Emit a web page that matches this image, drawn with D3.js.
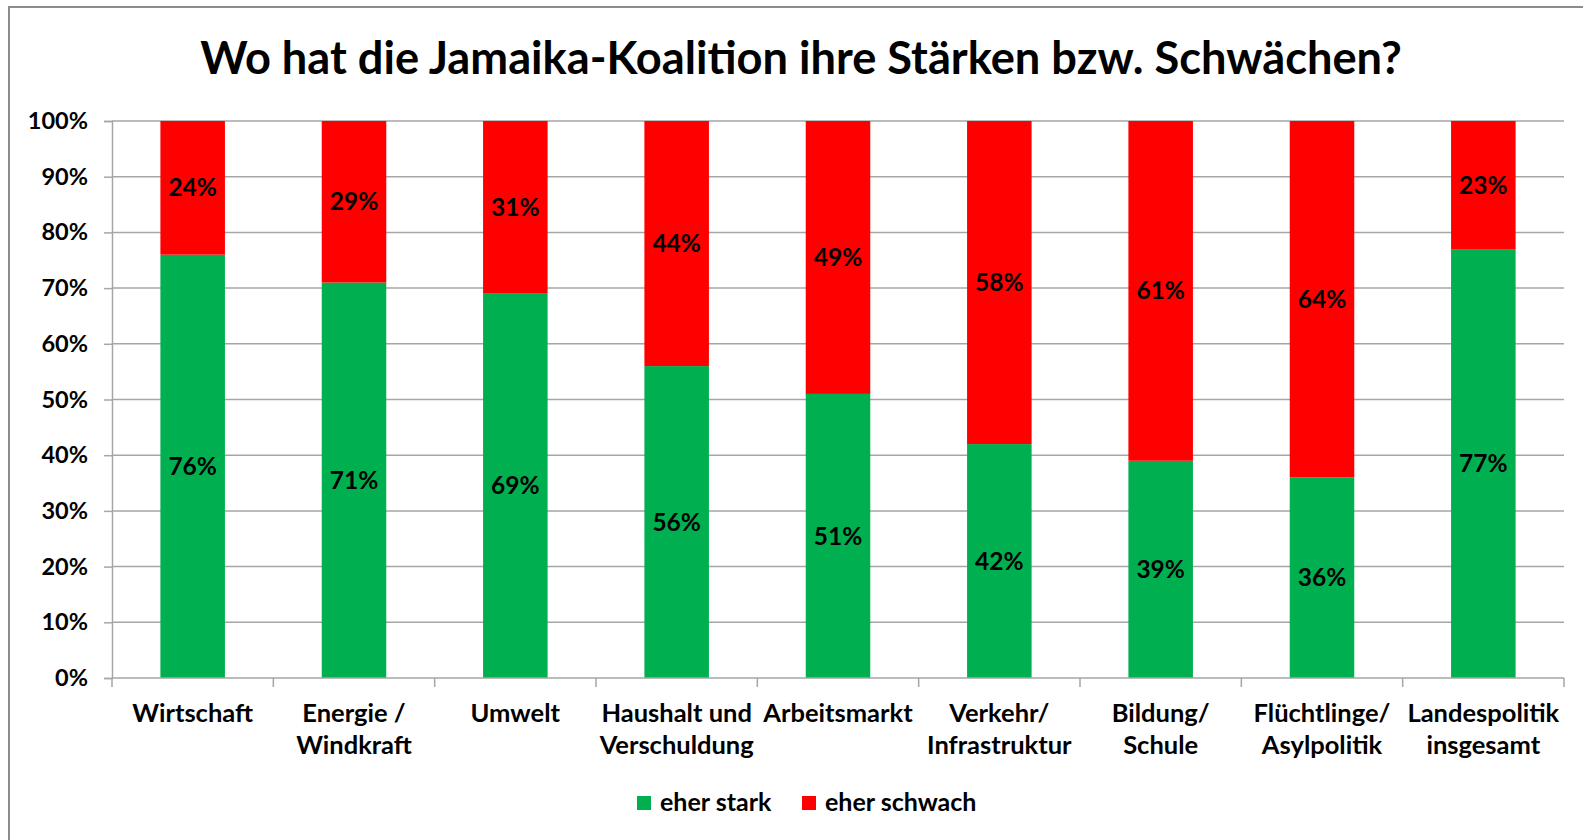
<!DOCTYPE html>
<html><head><meta charset="utf-8">
<script src="https://cdn.jsdelivr.net/npm/d3@7"></script>
<style>
html,body{margin:0;padding:0;background:#fff;}
svg{display:block;font-family:Lato,"Open Sans",sans-serif;font-weight:700;}
</style></head>
<body><svg id="c" width="1583" height="840"></svg>
<script>
const title = "Wo hat die Jamaika-Koalition ihre Stärken bzw. Schwächen?";
const categories = [
  ["Wirtschaft"], ["Energie /", "Windkraft"], ["Umwelt"], ["Haushalt und", "Verschuldung"],
  ["Arbeitsmarkt"], ["Verkehr/", "Infrastruktur"], ["Bildung/", "Schule"],
  ["Flüchtlinge/", "Asylpolitik"], ["Landespolitik", "insgesamt"]
];
const seriesNames = ["eher stark", "eher schwach"];
const eherStark = [76, 71, 69, 56, 51, 42, 39, 36, 77];
const eherSchwach = [24, 29, 31, 44, 49, 58, 61, 64, 23];
const yTicks = [0, 10, 20, 30, 40, 50, 60, 70, 80, 90, 100];
const colors = ["#00B050", "#FF0000"];

const svg = d3.select("#c");
// chart area border
svg.append("rect").attr("x", 9).attr("y", 7).attr("width", 1600).attr("height", 900)
  .attr("fill", "#fff").attr("stroke", "#8c8c8c").attr("stroke-width", 2);

function fit(sel, target) {
  const w = sel.node().getComputedTextLength();
  const fs = parseFloat(sel.attr("font-size"));
  sel.attr("font-size", fs * target / w);
}

const t = svg.append("text").attr("x", 801).attr("y", 74).attr("text-anchor", "middle")
  .attr("font-size", 44).attr("fill", "#000").text(title);
fit(t, 1202);

const pL = 112, pR = 1564, pT = 121, pB = 678;
const x = d3.scaleBand().domain(d3.range(categories.length)).range([pL, pR]).paddingInner(0.6).paddingOuter(0.3);
const xc = d3.scaleBand().domain(d3.range(categories.length)).range([pL, pR]);
const y = d3.scaleLinear().domain([0, 100]).range([pB, pT]);

// gridlines
svg.append("g").selectAll("line").data(yTicks.filter(d => d > 0)).join("line")
  .attr("x1", pL).attr("x2", pR).attr("y1", d => y(d)).attr("y2", d => y(d))
  .attr("stroke", "#a6a6a6").attr("stroke-width", 1.5);

// y axis
const ya = svg.append("g").attr("transform", `translate(${pL},0)`)
  .call(d3.axisLeft(y).tickValues(yTicks).tickFormat(d => d + "%").tickSize(8).tickPadding(16));
ya.select(".domain").attr("stroke", "#a6a6a6").attr("stroke-width", 1.5);
ya.selectAll(".tick line").attr("stroke", "#a6a6a6").attr("stroke-width", 1.5);
ya.selectAll(".tick text").attr("font-family", "Lato, sans-serif").attr("font-weight", 700)
  .attr("font-size", 23.5).attr("fill", "#000");

// stacked data
const rows = categories.map((c, i) => ({i, s: eherStark[i], w: eherSchwach[i]}));
const stack = d3.stack().keys(["s", "w"]).offset(d3.stackOffsetExpand)(rows);
const g = svg.append("g");
stack.forEach((layer, li) => {
  g.append("g").selectAll("rect").data(layer).join("rect")
    .attr("x", d => x(d.data.i)).attr("width", x.bandwidth())
    .attr("y", d => y(d[1] * 100)).attr("height", d => y(d[0] * 100) - y(d[1] * 100))
    .attr("fill", colors[li]);
  g.append("g").selectAll("text").data(layer).join("text")
    .attr("x", d => x(d.data.i) + x.bandwidth() / 2)
    .attr("y", d => y((d[0] + d[1]) * 50))
    .attr("dy", "0.35em").attr("text-anchor", "middle").attr("font-size", 24.5).attr("fill", "#000")
    .text(d => d.data[li === 0 ? "s" : "w"] + "%");
});

// x axis
svg.append("line").attr("x1", pL).attr("x2", pR).attr("y1", pB).attr("y2", pB)
  .attr("stroke", "#a6a6a6").attr("stroke-width", 1.5);
svg.append("g").selectAll("line").data(d3.range(categories.length + 1)).join("line")
  .attr("x1", d => pL + d * xc.bandwidth()).attr("x2", d => pL + d * xc.bandwidth())
  .attr("y1", pB).attr("y2", pB + 9).attr("stroke", "#a6a6a6").attr("stroke-width", 1.5);
const cl = svg.append("g").selectAll("text").data(categories).join("text")
  .attr("x", (d, i) => xc(i) + xc.bandwidth() / 2).attr("y", 722)
  .attr("text-anchor", "middle").attr("font-size", 25.5).attr("fill", "#000");
cl.selectAll("tspan").data(d => d).join("tspan")
  .attr("x", function() { return this.parentNode.getAttribute("x"); })
  .attr("dy", (d, i) => i === 0 ? 0 : 32).text(d => d);

// legend
const legX = [637, 802];
seriesNames.forEach((n, i) => {
  svg.append("rect").attr("x", legX[i]).attr("y", 796).attr("width", 14).attr("height", 14).attr("fill", colors[i]);
  svg.append("text").attr("x", legX[i] + 23).attr("y", 811).attr("font-size", 25).attr("fill", "#000").text(n);
});
</script></body></html>
